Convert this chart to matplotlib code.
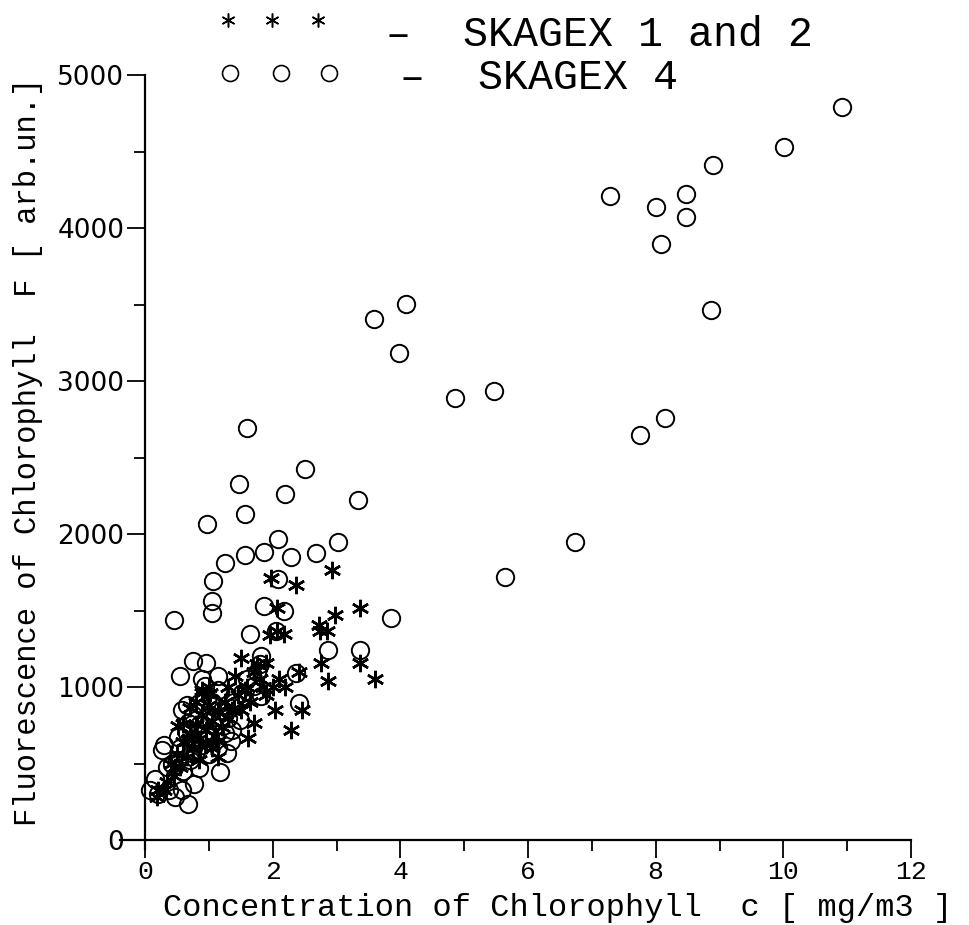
import numpy as np
import matplotlib.pyplot as plt
from matplotlib.lines import Line2D
from matplotlib.ticker import MultipleLocator

# SKAGEX 4 (open circles)
sk4_x = np.array([
    10.92, 10.01, 8.90, 8.48, 8.48, 8.00, 7.29, 8.08, 8.87, 8.15, 7.75, 6.73, 5.64,
    5.47, 4.86, 4.09, 3.59, 3.98,
    3.33, 3.03, 1.60, 2.50, 1.47, 2.19, 1.57, 0.97, 2.08, 1.57, 1.87, 2.28, 2.68,
    1.26, 1.06, 2.08, 1.05, 1.05, 0.45, 1.86, 2.18, 1.64, 2.05, 3.86, 2.86, 3.36,
    2.36, 0.75, 0.95, 0.54, 1.14,
    1.81, 2.41, 0.58, 0.29, 0.26, 0.16, 0.08, 0.68, 1.18, 1.49, 1.28, 0.84, 1.05,
    0.47, 0.37, 0.58, 0.76, 0.42, 0.52, 0.94, 1.15, 0.73, 1.36, 0.94, 1.70, 1.81,
    1.52, 1.10, 0.68,
    0.55, 0.65, 0.75, 0.85, 0.95, 0.70, 0.80, 0.90, 1.00, 1.20, 0.60, 0.50, 0.85,
    1.00, 1.05, 1.25, 1.30, 1.40, 0.75, 0.65, 1.15, 0.90, 1.35, 0.20, 0.35, 1.75,
    1.80, 1.60])
sk4_y = np.array([
    4790, 4530, 4415, 4225, 4070, 4135, 4210, 3895, 3465, 2760, 2645, 1950, 1720,
    2935, 2890, 3505, 3405, 3180,
    2225, 1945, 2690, 2425, 2327, 2261, 2134, 2064, 1970, 1862, 1880, 1851, 1877,
    1809, 1691, 1706, 1562, 1481, 1439, 1531, 1496, 1349, 1363, 1452, 1241, 1241,
    1092, 1170, 1160, 1075, 1070,
    1201, 895, 851, 621, 588, 402, 325, 238, 446, 785, 566, 895, 873,
    282, 325, 325, 369, 500, 676, 698, 610, 566, 720, 1004, 1004, 939,
    961, 807, 763,
    600, 700, 650, 750, 800, 520, 580, 620, 700, 850, 450, 520, 470,
    560, 900, 700, 800, 900, 820, 880, 980, 1050, 650, 300, 480, 1100,
    1150, 1050])

# SKAGEX 1 and 2 (asterisks)
sk12_x = np.array([
    2.93, 1.98, 2.37, 3.37, 2.98, 2.72, 2.74, 2.85, 2.06, 1.96, 2.17, 2.07, 2.76,
    3.37, 2.87, 3.60, 2.41, 2.20, 1.51, 1.90, 1.41, 2.04, 2.46, 2.28, 1.70, 1.62,
    0.21, 0.18, 1.02, 0.89, 0.52, 0.47, 1.36, 1.57, 1.15, 0.84, 0.68,
    0.60, 0.70, 0.80, 0.90, 1.00, 0.75, 0.85, 0.95, 1.05, 1.15, 1.25, 0.65, 0.55,
    0.45, 0.35, 0.95, 1.10, 1.20, 1.30, 1.40, 0.80, 0.90, 1.00, 1.05, 1.15, 0.60,
    0.70, 0.50, 0.40, 0.30, 1.30, 1.45, 1.60, 1.70, 1.75, 1.80, 1.85, 1.65, 1.50,
    1.90, 2.00, 2.10])
sk12_y = np.array([
    1765, 1715, 1665, 1514, 1468, 1408, 1366, 1366, 1514, 1340, 1344, 1366, 1158,
    1158, 1042, 1053, 1098, 1001, 1190, 1158, 1070, 851, 851, 720, 768, 665,
    325, 282, 960, 982, 742, 479, 851, 982, 544, 522, 654,
    640, 700, 760, 820, 880, 600, 660, 720, 780, 840, 900, 540, 480,
    420, 380, 620, 680, 740, 800, 860, 900, 960, 1000, 600, 650, 760,
    860, 560, 500, 330, 1000, 950, 1000, 1100, 1150, 1050, 1000, 900, 850,
    950, 1000, 1050])

legend_labels = ['SKAGEX 1 and 2', 'SKAGEX 4']

mono = 'Liberation Mono'
asterisk = (6, 2, 0)

W, H = 969, 925
fig = plt.figure(figsize=(W / 100, H / 100), dpi=100)
# x: 0 -> 145 px, 12 -> 911 px ; y: 0 -> 840 px, 5000 -> 75 px
ax = fig.add_axes([119.5 / W, 1 - 849.2 / H, (911 - 119.5) / W, (849.2 - 75) / H])

ax.plot(sk4_x, sk4_y, 'o', ms=12.5, mfc='none', mec='black', mew=1.4, clip_on=False)
ax.plot(sk12_x, sk12_y, ls='none', marker=asterisk, ms=12.5, mec='black', mew=1.8,
        clip_on=False)

ax.set_xlim(-0.4, 12)
ax.set_ylim(-60, 5000)

for s in ['top', 'right']:
    ax.spines[s].set_visible(False)
ax.spines['left'].set_position(('data', 0))
ax.spines['bottom'].set_position(('data', 0))
ax.spines['left'].set_bounds(-60, 5000)
ax.spines['bottom'].set_bounds(-0.4, 12)
for s in ['left', 'bottom']:
    ax.spines[s].set_linewidth(1.6)

ax.xaxis.set_major_locator(MultipleLocator(2))
ax.xaxis.set_minor_locator(MultipleLocator(1))
ax.yaxis.set_major_locator(MultipleLocator(1000))
ax.yaxis.set_minor_locator(MultipleLocator(500))
ax.tick_params(which='major', direction='out', length=13, width=1.3)
ax.tick_params(which='minor', direction='out', length=8, width=1.3)
ax.tick_params(axis='x', pad=1.5)
ax.tick_params(axis='y', pad=2)

for lab in ax.get_xticklabels():
    lab.set_fontfamily(mono)
    lab.set_fontsize(19)
for lab in ax.get_yticklabels():
    lab.set_fontfamily('DejaVu Sans')
    lab.set_fontsize(19)

fig.text(558 / W, 1 - 908 / H, 'Concentration of Chlorophyll  c [ mg/m3 ]',
         family=mono, fontsize=23, ha='center', va='center')
fig.text(28 / W, 1 - 452 / H, 'Fluorescence of Chlorophyll  F [ arb.un.]',
         family=mono, fontsize=22, ha='center', va='center', rotation=90)

# legend drawn at top of the figure
fig.add_artist(Line2D(np.array([228, 272, 318]) / W, [1 - 20 / H] * 3, ls='none',
                      marker=asterisk, ms=10, mec='black', mew=1.1))
fig.add_artist(Line2D(np.array([230, 281, 329]) / W, [1 - 73 / H] * 3, ls='none',
                      marker='o', ms=11.5, mfc='none', mec='black', mew=1.2))
fig.text(398 / W, 1 - 46 / H, '\u2013', family=mono, fontsize=30, ha='center', va='baseline')
fig.text(412 / W, 1 - 89 / H, '\u2013', family=mono, fontsize=30, ha='center', va='baseline')
fig.text(463 / W, 1 - 46 / H, legend_labels[0], family=mono, fontsize=30, va='baseline')
fig.text(478 / W, 1 - 89 / H, legend_labels[1], family=mono, fontsize=30, va='baseline')

fig.savefig('out.png', dpi=100, facecolor='white')
